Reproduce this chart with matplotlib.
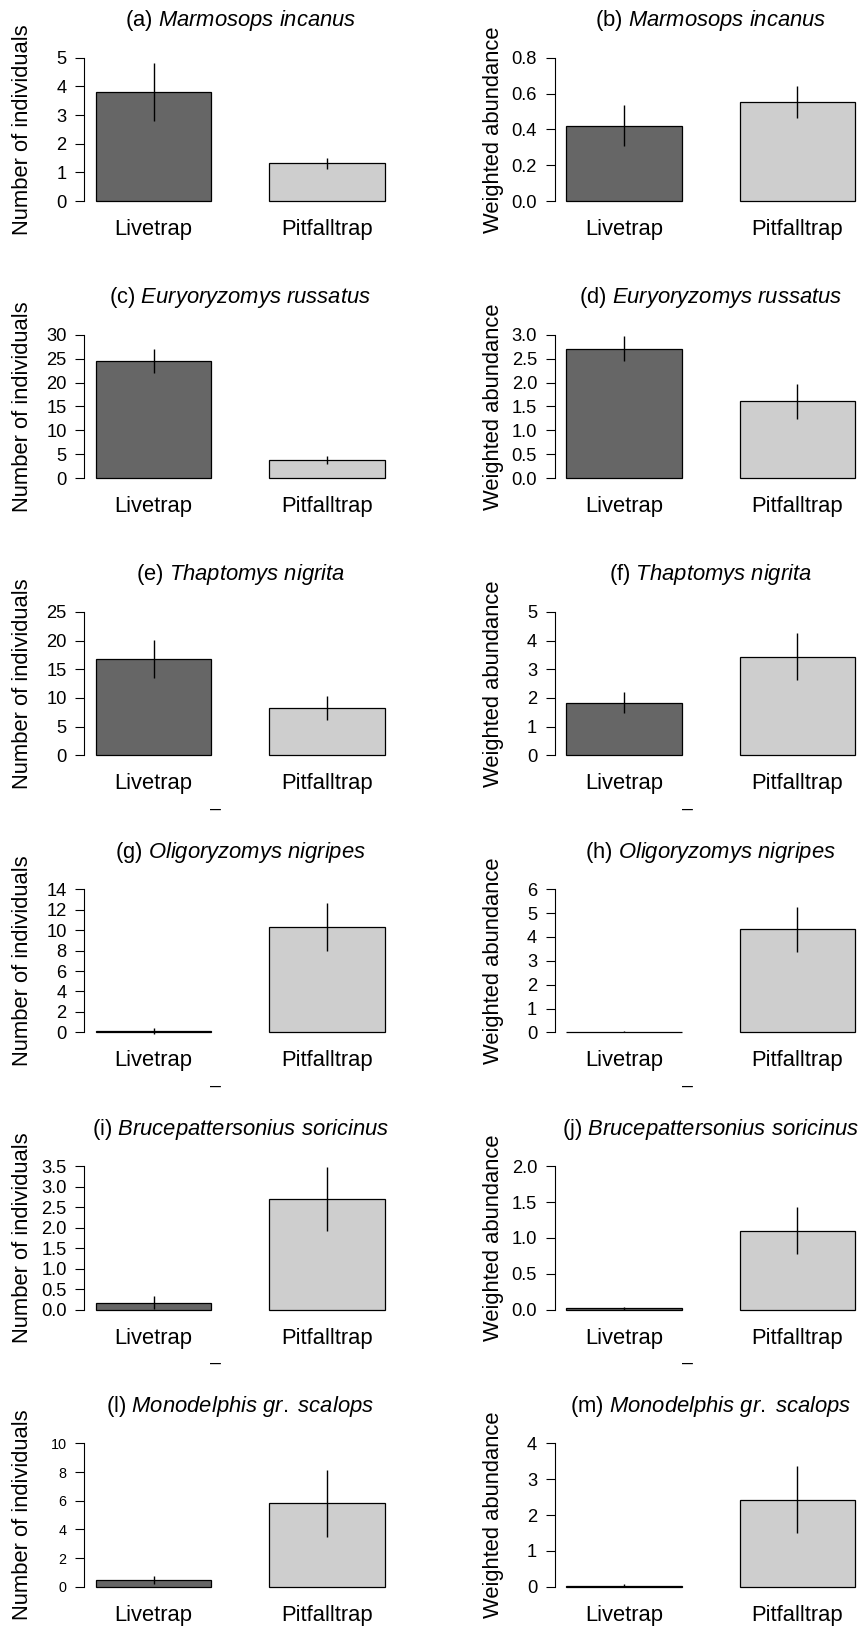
import matplotlib
matplotlib.use('Agg')
import matplotlib.pyplot as plt

plt.rcParams['font.family'] = ['Liberation Sans', 'DejaVu Sans']
plt.rcParams['mathtext.fontset'] = 'custom'
plt.rcParams['mathtext.rm'] = 'Liberation Sans'
plt.rcParams['mathtext.it'] = 'Liberation Sans:italic'

# ---------------- data ----------------
categories = ['Livetrap', 'Pitfalltrap']
species = ['Marmosops incanus', 'Euryoryzomys russatus', 'Thaptomys nigrita',
           'Oligoryzomys nigripes', 'Brucepattersonius soricinus',
           'Monodelphis gr. scalops']
letters_left = ['a', 'c', 'e', 'g', 'i', 'l']
letters_right = ['b', 'd', 'f', 'h', 'j', 'm']

# Number of individuals (mean, se)
ind_mean = [[3.81, 1.31], [24.55, 3.75], [16.8, 8.26], [0.10, 10.33], [0.17, 2.69], [0.49, 5.82]]
ind_se = [[1.01, 0.20], [2.45, 0.86], [3.30, 2.02], [0.30, 2.35], [0.16, 0.78], [0.28, 2.34]]
ind_ticks = [[0, 1, 2, 3, 4, 5],
             [0, 5, 10, 15, 20, 25, 30],
             [0, 5, 10, 15, 20, 25],
             [0, 2, 4, 6, 8, 10, 12, 14],
             [0.0, 0.5, 1.0, 1.5, 2.0, 2.5, 3.0, 3.5],
             [0, 2, 4, 6, 8, 10]]
ind_ticklabels = [['0', '1', '2', '3', '4', '5'],
                  ['0', '5', '10', '15', '20', '25', '30'],
                  ['0', '5', '10', '15', '20', '25'],
                  ['0', '2', '4', '6', '8', '10', '12', '14'],
                  ['0.0', '0.5', '1.0', '1.5', '2.0', '2.5', '3.0', '3.5'],
                  ['0', '2', '4', '6', '8', '10']]

# Weighted abundance (mean, se)
wab_mean = [[0.42, 0.554], [2.71, 1.61], [1.84, 3.44], [0.02, 4.31], [0.015, 1.10], [0.03, 2.43]]
wab_se = [[0.115, 0.088], [0.265, 0.37], [0.37, 0.82], [0.02, 0.955], [0.015, 0.325], [0.04, 0.945]]
wab_ticks = [[0.0, 0.2, 0.4, 0.6, 0.8],
             [0.0, 0.5, 1.0, 1.5, 2.0, 2.5, 3.0],
             [0, 1, 2, 3, 4, 5],
             [0, 1, 2, 3, 4, 5, 6],
             [0.0, 0.5, 1.0, 1.5, 2.0],
             [0, 1, 2, 3, 4]]
wab_ticklabels = [['0.0', '0.2', '0.4', '0.6', '0.8'],
                  ['0.0', '0.5', '1.0', '1.5', '2.0', '2.5', '3.0'],
                  ['0', '1', '2', '3', '4', '5'],
                  ['0', '1', '2', '3', '4', '5', '6'],
                  ['0.0', '0.5', '1.0', '1.5', '2.0'],
                  ['0', '1', '2', '3', '4']]

# ---------------- layout ----------------
W, H = 863, 1630
fig = plt.figure(figsize=(W / 100, H / 100), dpi=100)

bar_colors = ['#666666', '#cecece']
bar_x = [1.0, 2.5]
xlim = (0.4, 3.1)
row0_zero = 201.0
row_pitch = 277.14
ax_h = 143.3
col_left = [84.3, 554.7]
ax_w = 312.0
ylab_x = [23.0, 493.5]
ylab_txt = ['Number of individuals', 'Weighted abundance']
dash_x = [215.3, 687.3]

FS_BIG = 15.8
FS_TICK = 13.2


def draw_panel(ax, means, ses, ticks, ticklabels, tick_fs):
    ax.bar(bar_x, means, width=1.0, color=bar_colors, edgecolor='black',
           linewidth=0.9, clip_on=False, zorder=2)
    for x, m, s in zip(bar_x, means, ses):
        ax.vlines(x, m - s, m + s, color='black', linewidth=1.0,
                  clip_on=False, zorder=3)
    ax.set_xlim(*xlim)
    ax.set_ylim(ticks[0], ticks[-1])
    ax.set_yticks(ticks)
    ax.set_yticklabels(ticklabels)
    ax.tick_params(axis='y', length=6.5, width=0.8, pad=6.2,
                   labelsize=tick_fs, direction='out')
    ax.set_xticks([])
    for sp in ['top', 'right', 'bottom']:
        ax.spines[sp].set_visible(False)
    ax.spines['left'].set_linewidth(0.8)
    ax.patch.set_alpha(0)
    for x, lab in zip(bar_x, categories):
        ax.annotate(lab, xy=(x, ticks[0]), xycoords='data',
                    xytext=(0, -34 * 0.72), textcoords='offset points',
                    ha='center', va='baseline', fontsize=FS_BIG,
                    annotation_clip=False)


for r in range(6):
    zero_px = row0_zero + r * row_pitch
    for c in range(2):
        left = col_left[c]
        ax = fig.add_axes([left / W, 1 - zero_px / H, ax_w / W, ax_h / H])
        if c == 0:
            draw_panel(ax, ind_mean[r], ind_se[r], ind_ticks[r], ind_ticklabels[r],
                       10.4 if r == 5 else FS_TICK)
            letter = letters_left[r]
        else:
            draw_panel(ax, wab_mean[r], wab_se[r], wab_ticks[r], wab_ticklabels[r],
                       FS_TICK)
            letter = letters_right[r]
        sp = species[r].replace(' ', r'\ ')
        title = '(' + letter + ') ' + r'$\mathit{' + sp + '}$'
        ax.annotate(title, xy=(0.5, 1.0), xycoords='axes fraction',
                    xytext=(0, 31.5 * 0.72), textcoords='offset points',
                    ha='center', va='baseline', fontsize=FS_BIG,
                    annotation_clip=False)
        fig.text(ylab_x[c] / W, 1 - (zero_px - ax_h / 2) / H, ylab_txt[c],
                 rotation=90, ha='center', va='center', fontsize=FS_BIG)
        if r in (2, 3, 4):
            fig.text(dash_x[c] / W, 1 - (zero_px + 54) / H, '\u2013',
                     ha='center', va='center', fontsize=14)

fig.savefig('out.png', dpi=100)
